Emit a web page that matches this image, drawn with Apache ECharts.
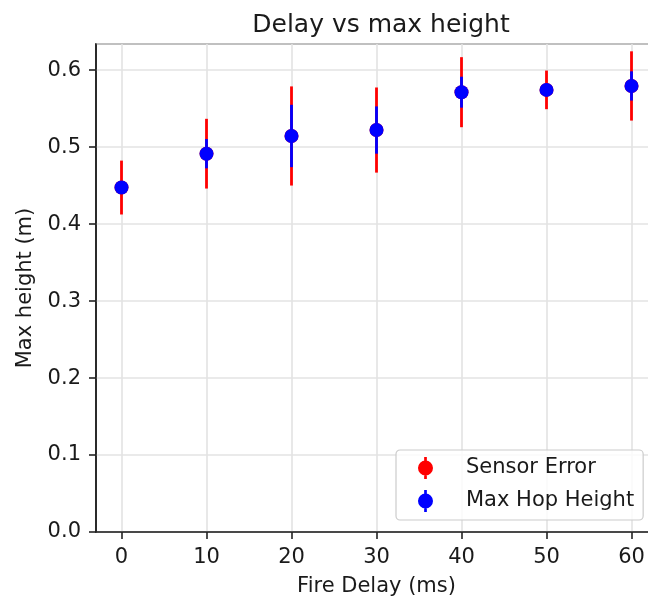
<!DOCTYPE html>
<html>
<head>
<meta charset="utf-8">
<script src="https://cdn.jsdelivr.net/npm/echarts@6/dist/echarts.min.js"></script>
<style>html,body{margin:0;padding:0;background:#fff;}#c{width:648px;height:600px;}</style>
</head>
<body>
<div id="c"></div>
<script>
// Data
const delays = [0, 10, 20, 30, 40, 50, 60];
const maxHeights = [0.4475, 0.4915, 0.5145, 0.5222, 0.5714, 0.5744, 0.5795];
const sensorError = [0.035, 0.0453, 0.0644, 0.0553, 0.0455, 0.0251, 0.045];
const hopError = [0.008, 0.019, 0.0405, 0.0307, 0.0201, 0.008, 0.019];
const xTicks = [0, 10, 20, 30, 40, 50, 60];

const FONT = 'DejaVu Sans';
const TXT = '#1a1a1a';

function pairs(errs) {
  return delays.map((d, i) => [d, maxHeights[i], errs[i]]);
}
function errRender(color) {
  return function (params, api) {
    const x = api.value(0), y = api.value(1), e = api.value(2);
    const p1 = api.coord([x, y + e]);
    const p2 = api.coord([x, y - e]);
    return {
      type: 'line',
      shape: { x1: p1[0], y1: p1[1], x2: p2[0], y2: p2[1] },
      style: { stroke: color, lineWidth: 2.8 }
    };
  };
}
const iconPath = 'path://M12.3,0H17.7V44H12.3Z M15,7A15,15 0 1 1 14.99,7Z';

const chart = echarts.init(document.getElementById('c'), null, { renderer: 'canvas' });
chart.setOption({
  animation: false,
  backgroundColor: '#fff',
  textStyle: { fontFamily: FONT },
  title: {
    text: 'Delay vs max height',
    left: 376, top: 8,
    textAlign: 'center',
    textStyle: { fontFamily: FONT, fontSize: 25, fontWeight: 'normal', color: TXT }
  },
  grid: {
    left: 96, top: 44, width: 561, height: 488,
    outerBoundsMode: 'none', containLabel: false,
    show: true, borderColor: '#222', borderWidth: 1.6, backgroundColor: 'transparent'
  },
  legend: {
    left: 396, top: 450,
    orient: 'vertical',
    itemWidth: 15, itemHeight: 22, itemGap: 11,
    padding: [7, 9, 8, 22],
    backgroundColor: 'rgba(255,255,255,0.8)',
    borderColor: '#cccccc', borderWidth: 1.2, borderRadius: 4,
    textStyle: { fontFamily: FONT, fontSize: 21, color: TXT, lineHeight: 22, padding: [0, 0, 0, 28] },
    data: [
      { name: 'Sensor Error', icon: iconPath },
      { name: 'Max Hop Height', icon: iconPath }
    ]
  },
  xAxis: {
    type: 'value', min: -3, max: 63,
    name: 'Fire Delay (ms)', nameLocation: 'middle', nameGap: 44,
    nameTextStyle: { fontFamily: FONT, fontSize: 21, color: TXT },
    axisLine: { show: true, onZero: false, lineStyle: { color: '#222', width: 1.6 } },
    axisTick: { show: true, length: 7, lineStyle: { color: '#222', width: 1.6 }, customValues: xTicks },
    axisLabel: { fontFamily: FONT, fontSize: 21, color: TXT, margin: 15, customValues: xTicks },
    splitLine: { show: true, lineStyle: { color: '#e3e3e3', width: 1.6 } }
  },
  yAxis: {
    type: 'value', min: 0, max: 0.634, interval: 0.1,
    name: 'Max height (m)', nameLocation: 'middle', nameGap: 60,
    nameTextStyle: { fontFamily: FONT, fontSize: 21, color: TXT },
    axisLine: { show: true, onZero: false, lineStyle: { color: '#222', width: 1.6 } },
    axisTick: { show: true, length: 7, lineStyle: { color: '#222', width: 1.6 } },
    axisLabel: { fontFamily: FONT, fontSize: 21, color: TXT, margin: 15, showMaxLabel: false,
      formatter: v => v.toFixed(1) },
    splitLine: { show: true, lineStyle: { color: '#e3e3e3', width: 1.6 } }
  },
  series: [
    { name: 'Sensor Error', type: 'custom', renderItem: errRender('#ff0000'),
      itemStyle: { color: '#ff0000' }, data: pairs(sensorError), z: 3 },
    { name: 'Sensor Error', type: 'scatter', symbol: 'circle', symbolSize: 14,
      itemStyle: { color: '#ff0000', opacity: 1 }, data: delays.map((d, i) => [d, maxHeights[i]]), z: 4 },
    { name: 'Max Hop Height', type: 'custom', renderItem: errRender('#0000ff'),
      itemStyle: { color: '#0000ff' }, data: pairs(hopError), z: 5 },
    { name: 'Max Hop Height', type: 'scatter', symbol: 'circle', symbolSize: 14,
      itemStyle: { color: '#0000ff', opacity: 1 }, data: delays.map((d, i) => [d, maxHeights[i]]), z: 6 }
  ]
});
</script>
</body>
</html>
